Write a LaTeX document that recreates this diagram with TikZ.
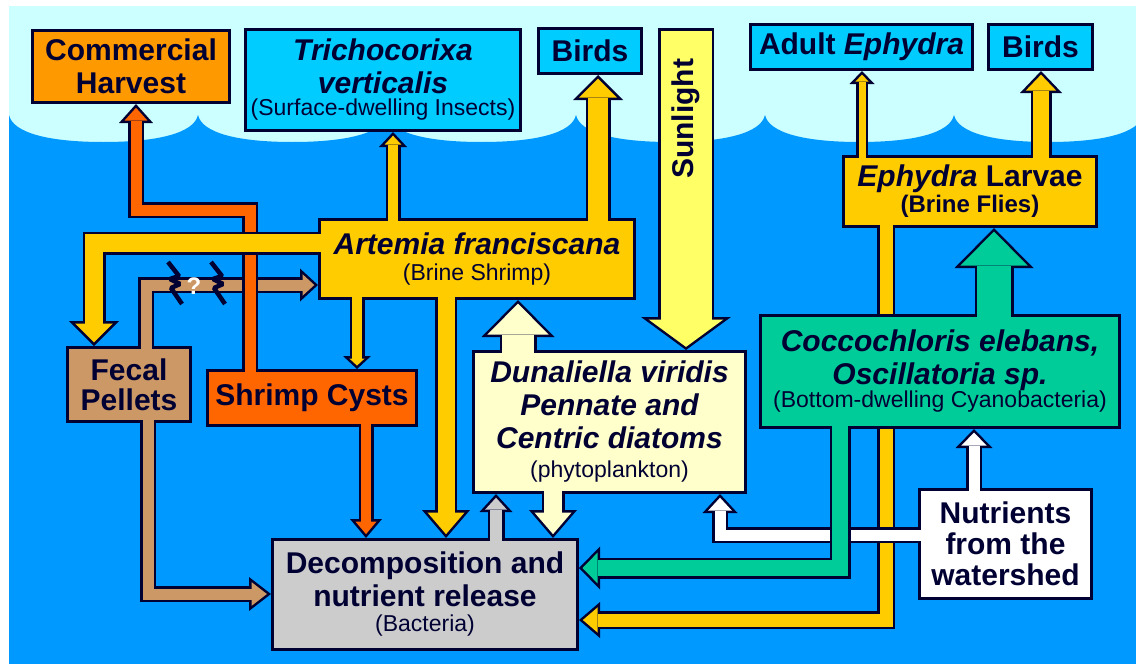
\documentclass[tikz,border=0pt]{standalone}
\usepackage{fontspec}
\setmainfont{Liberation Sans}
\usetikzlibrary{arrows.meta,calc}
\definecolor{ink}{HTML}{000033}
\definecolor{sky}{HTML}{CCFFFF}
\definecolor{sea}{HTML}{0099FF}
\definecolor{surf}{HTML}{00CCFF}
\definecolor{hvorange}{HTML}{FF9900}
\definecolor{cyst}{HTML}{FF6600}
\definecolor{shrimp}{HTML}{FFCC00}
\definecolor{sunny}{HTML}{FFFF66}
\definecolor{algae}{HTML}{FFFFCC}
\definecolor{bluegreen}{HTML}{00CC99}
\definecolor{pellet}{HTML}{CC9966}
\definecolor{bact}{HTML}{CCCCCC}
\newcommand{\subtxt}[1]{{\fontsize{23}{25}\selectfont\mdseries #1}}
% outlined block arrow: [start shortening]{colour}{shaft}{head width}{head length}{path}
\newcommand{\flow}[6][-4]{%
  \pgfmathsetmacro\fo{2.5}
  \pgfmathsetmacro\fth{atan(#4/2/#5)}
  \pgfmathsetmacro\fsh{\fo/sin(\fth)}
  \pgfmathsetmacro\fil{#5-\fo-\fsh}
  \pgfmathsetmacro\fiw{#4*(#5-\fo)/#5-2*\fo/cos(\fth)}
  \pgfmathsetmacro\fis{#3-2*\fo}
  \draw[line width=#3pt,draw=ink,-{Triangle[width=#4pt,length=#5pt,line width=0pt]}] #6;
  \draw[line width=\fis pt,draw=#2,-{Triangle[width=\fiw pt,length=\fil pt,line width=0pt]},
    shorten >=\fsh pt,shorten <=#1pt] #6;
}
\tikzset{
    box/.style={draw=ink,line width=3pt,inner sep=0pt,align=center,text=ink,
        font=\fontsize{30}{33}\selectfont\bfseries},
    brk/.style={draw=ink,line width=4.5pt,line join=bevel},
}

\begin{document}
\begin{tikzpicture}[x=1pt,y=-1pt]
    \useasboundingbox (0,0) rectangle (1136,664);
    \begin{scope}
        \clip (9,6) rectangle (1136,664);
        \fill[sky] (9,6) rectangle (1136,664);
        \fill[sea] (9,115) \foreach \c in {9,198,387,576,765,954}{
            .. controls +(4,18) and +(-54.5,0) .. (\c+94.5,142)
            .. controls +(54.5,0) and +(-4,18) .. (\c+189,115)}
            -- (1143,664) -- (9,664) -- cycle;
    \end{scope}

    \node[box,fill=hvorange,minimum width=197pt,minimum height=72pt] (harvest) at (131,66.5) {Commercial\\Harvest};
    \node[box,fill=surf,minimum width=275pt,minimum height=101pt] (tricho) at (383,80)
        {\itshape Trichocorixa\\\itshape verticalis\\[-11pt]\subtxt{(Surface-dwelling Insects)}};
    \node[box,fill=surf,minimum width=103pt,minimum height=45pt] (birdsL) at (590,51) {Birds};
    \node[box,fill=surf,minimum width=222pt,minimum height=45pt] (adult) at (861.5,47) {Adult \textit{Ephydra}};
    \node[box,fill=surf,minimum width=104pt,minimum height=45pt] (birdsR) at (1040.5,47) {Birds};
    \node[box,fill=shrimp,minimum width=253pt,minimum height=70pt] (larvae) at (970,191.5)
        {\textit{Ephydra} Larvae\\[-7pt]{\fontsize{24}{26}\selectfont(Brine Flies)}};
    \node[box,fill=shrimp,minimum width=315pt,minimum height=79pt] (artemia) at (477,259)
        {\itshape Artemia franciscana\\[-7pt]\subtxt{(Brine Shrimp)}};
    \node[box,fill=pellet,minimum width=123pt,minimum height=74pt] (fecal) at (129,384.5) {Fecal\\[-3pt]Pellets};
    \node[box,fill=cyst,minimum width=209pt,minimum height=55pt] (cysts) at (312,398) {Shrimp Cysts};
    \node[box,fill=algae,minimum width=272pt,minimum height=141pt] (phyto) at (609.5,422)
        {\itshape Dunaliella viridis\\\itshape Pennate and\\\itshape Centric diatoms\\[-4pt]\subtxt{(phytoplankton)}};
    \node[box,fill=bact,minimum width=305pt,minimum height=110pt] (decomp) at (425,594.5)
        {Decomposition and\\nutrient release\\[-8pt]\subtxt{(Bacteria)}};
    \node[box,fill=white,minimum width=172pt,minimum height=109pt] (nutri) at (1005.5,544)
        {Nutrients\\[-2pt]from the\\[-2pt]watershed};

    \flow{shrimp}{18}{36}{21}{(larvae.south -| 886,0) -- (886,620) -- (decomp.east |- 0,620)}
    \flow{white}{16}{35}{19}{(nutri.west |- 0,535) -- (720,535) -- (phyto.south -| 720,0)}

    \node[box,fill=bluegreen,minimum width=359pt,minimum height=112pt] (cyano) at (940,371.5)
        {\itshape Coccochloris elebans,\\\itshape Oscillatoria sp.\\[-10pt]\subtxt{(Bottom-dwelling Cyanobacteria)}};

    \flow{bluegreen}{21}{43}{21}{(cyano.south -| 840,0) -- (840,568) -- (decomp.east |- 0,568)}
    \flow{bluegreen}{39}{79}{40}{(cyano.north -| 994,0) -- (larvae.south -| 994,0)}
    \flow{white}{16}{37}{19}{(nutri.north -| 974,0) -- (cyano.south -| 974,0)}
    \flow{shrimp}{12}{25}{13}{(larvae.north -| 862,0) -- (adult.south -| 862,0)}
    \flow{shrimp}{21}{42}{22}{(larvae.north -| 1041,0) -- (birdsR.south -| 1041,0)}

    \coordinate (sunsrc) at (686,28);
    \flow[2.5]{sunny}{56}{90}{33}{(sunsrc) -- (phyto.north -| sunsrc)}
    \node[rotate=90,text=ink,font=\fontsize{30}{33}\selectfont\bfseries] (sun) at (686,119) {Sunlight};

    \flow{pellet}{16}{34}{22}{(fecal.south -| 148,0) -- (148,594) -- (decomp.west |- 0,594)}
    \flow{pellet}{16}{33}{18}{(fecal.north -| 146,0) -- (146,285) -- (artemia.west |- 0,285)}
    \foreach \bx in {168,211}
        \draw[brk] (\bx,262) -- ++(11,14) -- ++(-9,3) -- ++(10,5) -- ++(-9,4) -- ++(11,16);
    \node[text=white,font=\fontsize{24}{24}\selectfont\bfseries] (query) at (194,286) {?};

    \flow{cyst}{16}{34}{19}{(cysts.north -| 250,0) -- (250,210) -- (136,210) -- (harvest.south -| 136,0)}
    \flow{shrimp}{23}{50}{25}{(artemia.west |- 0,243) -- (94,243) -- (fecal.north -| 94,0)}
    \flow{shrimp}{15}{28}{13}{(artemia.south -| 357,0) -- (cysts.north -| 357,0)}
    \flow{shrimp}{22}{48}{28}{(artemia.south -| 446,0) -- (decomp.north -| 446,0)}
    \flow{cyst}{15}{32}{19}{(cysts.south -| 366,0) -- (decomp.north -| 366,0)}
    \flow{shrimp}{15}{28}{15}{(artemia.north -| 393,0) -- (tricho.south -| 393,0)}
    \flow{shrimp}{25}{50}{25}{(artemia.north -| 598,0) -- (birdsL.south -| 598,0)}
    \flow{algae}{37}{73}{37}{(phyto.north -| 518,0) -- (artemia.south -| 518,0)}
    \flow{algae}{23}{48}{28}{(phyto.south -| 553,0) -- (decomp.north -| 553,0)}
    \flow{bact}{17}{33}{18}{(decomp.north -| 496,0) -- (phyto.south -| 496,0)}
\end{tikzpicture}
\end{document}
